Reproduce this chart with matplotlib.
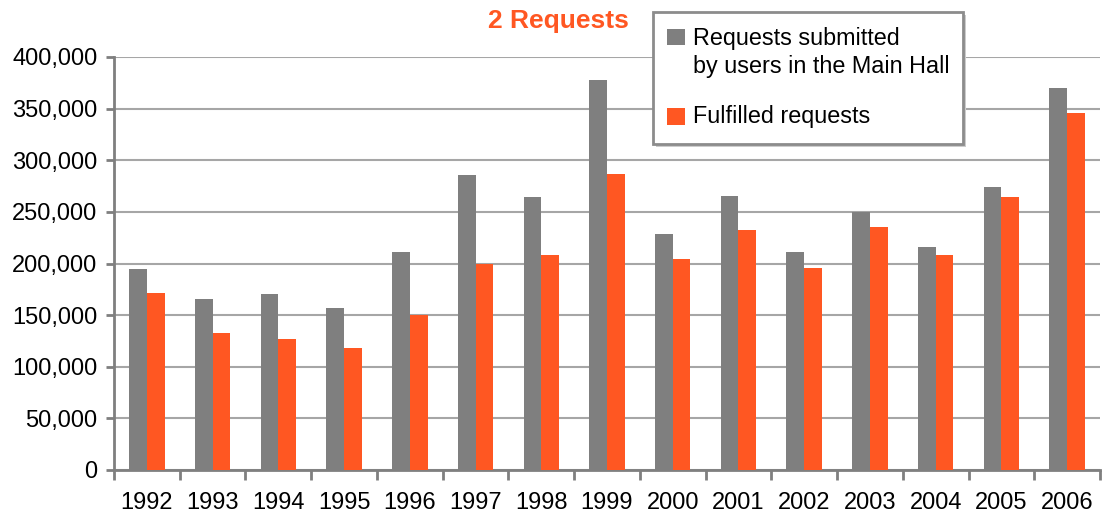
import numpy as np
import matplotlib.pyplot as plt
from matplotlib.patches import Rectangle
from matplotlib.ticker import FuncFormatter, FixedLocator

plt.rcParams['font.family'] = ['Liberation Sans', 'DejaVu Sans']

# data
years = ['1992', '1993', '1994', '1995', '1996', '1997', '1998', '1999',
         '2000', '2001', '2002', '2003', '2004', '2005', '2006']
submitted = [195000, 166000, 170000, 157000, 211000, 286000, 264000, 378000,
             229000, 265000, 211000, 250000, 216000, 274000, 370000]
fulfilled = [171000, 133000, 127000, 118000, 150000, 200000, 208000, 287000,
             204000, 232000, 196000, 235000, 208000, 264000, 346000]

grey = '#7f7f7f'
orange = '#ff5722'

fig = plt.figure(figsize=(11.03, 5.16), dpi=100)
ax = fig.add_axes([114 / 1103, 46 / 516, 986 / 1103, 413 / 516])

x = np.arange(len(years))
w = 0.27
ax.bar(x - w / 2, submitted, width=w, color=grey, zorder=3)
ax.bar(x + w / 2, fulfilled, width=w, color=orange, zorder=3)

ax.set_xlim(-0.5, len(years) - 0.5)
ax.set_ylim(0, 400000)
ax.set_yticks(np.arange(0, 400001, 50000))
ax.yaxis.set_major_formatter(FuncFormatter(lambda v, p: f'{int(v):,}'))
ax.grid(axis='y', color='#a6a6a6', lw=1.5, zorder=0)

ax.set_xticks(x)
ax.set_xticklabels(years)
ax.xaxis.set_minor_locator(FixedLocator(np.arange(-0.5, len(years), 1)))
ax.tick_params(axis='x', which='major', length=0, pad=16, labelsize=17)
ax.tick_params(axis='x', which='minor', length=7, width=2, color=grey, direction='out')
ax.tick_params(axis='y', length=6, width=2, color=grey, labelsize=17, pad=6)

for s in ['top', 'right']:
    ax.spines[s].set_visible(False)
for s in ['left', 'bottom']:
    ax.spines[s].set_color(grey)
    ax.spines[s].set_linewidth(2)

fig.text(558 / 1103, 1 - 21 / 516, '2 Requests', color=orange, fontsize=19,
         fontweight='bold', ha='center', va='center')

# legend box drawn by hand (two-line label with blank line between entries)
W, H = 1103, 516
fig.patches.append(Rectangle((656 / W, 1 - 147 / H), 310 / W, 132 / H,
                             transform=fig.transFigure, facecolor='#cccccc',
                             edgecolor='none', zorder=1))
fig.patches.append(Rectangle((653 / W, 1 - 144 / H), 310 / W, 132 / H,
                             transform=fig.transFigure, facecolor='white',
                             edgecolor='#8c8c8c', lw=2, zorder=2))
fig.patches.append(Rectangle((667 / W, 1 - 45 / H), 18 / W, 16 / H,
                             transform=fig.transFigure, facecolor=grey,
                             edgecolor='none', zorder=3))
fig.patches.append(Rectangle((667 / W, 1 - 125 / H), 18 / W, 17 / H,
                             transform=fig.transFigure, facecolor=orange,
                             edgecolor='none', zorder=3))
fig.text(693 / W, 1 - 38 / H, 'Requests submitted', fontsize=16.8, va='center', zorder=4)
fig.text(693 / W, 1 - 66 / H, 'by users in the Main Hall', fontsize=16.8, va='center', zorder=4)
fig.text(693 / W, 1 - 117 / H, 'Fulfilled requests', fontsize=16.8, va='center', zorder=4)

fig.savefig('out.png', dpi=100)
